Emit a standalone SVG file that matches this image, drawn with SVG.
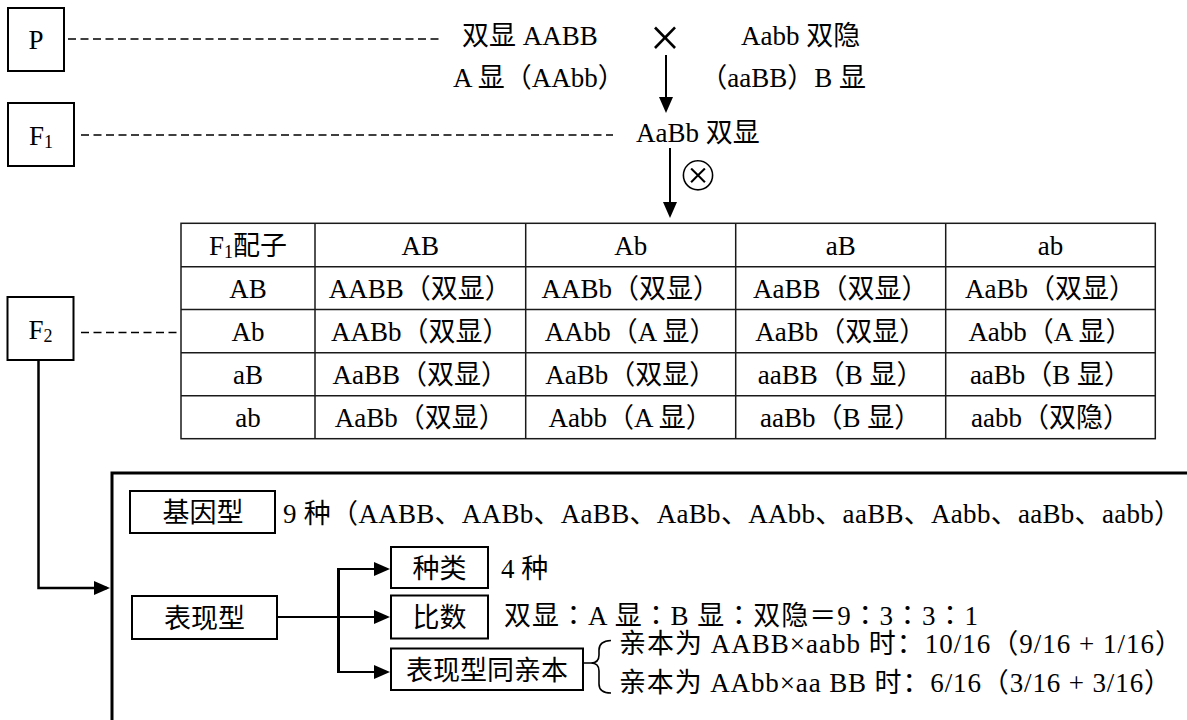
<svg xmlns="http://www.w3.org/2000/svg" width="1187" height="720" viewBox="0 0 1187 720">
<defs>
<style>
.t{font-family:"Liberation Serif","Noto Sans CJK SC",serif;font-size:27px;fill:#000}
.m{text-anchor:middle}
.e{text-anchor:end}
.tc{font-family:"Liberation Serif","Noto Sans CJK TC",serif}
.box{fill:none;stroke:#000;stroke-width:2}
.dash{fill:none;stroke:#000;stroke-width:1.5;stroke-dasharray:8 4.5}
.ln{fill:none;stroke:#000;stroke-width:2}
.tb{fill:none;stroke:#1a1a1a;stroke-width:1.5}
.sub{font-size:18px}
</style>
<marker id="arr" viewBox="0 0 16 14" refX="13" refY="7" markerWidth="16" markerHeight="14" markerUnits="userSpaceOnUse" orient="auto">
<path d="M0,0 L16,7 L0,14 z" fill="#000"/>
</marker>
</defs>
<rect width="1187" height="720" fill="#fff"/>

<g id="node-P">
<rect class="box" x="8" y="8" width="56" height="63"/>
<text class="t m" x="36" y="49">P</text>
</g>
<g id="node-F1">
<rect class="box" x="8" y="103" width="66" height="63"/>
<text class="t m" x="41" y="145">F<tspan class="sub" dy="3">1</tspan></text>
</g>
<g id="node-F2">
<rect class="box" x="7.5" y="297" width="66" height="63"/>
<text class="t m" x="40.5" y="339">F<tspan class="sub" dy="3">2</tspan></text>
</g>

<g id="node-parents">
<text class="t" x="462" y="45">双显 AABB</text>
<text class="t m" x="665" y="56" style="font-size:54px">×</text>
<text class="t" x="741" y="45">Aabb 双隐</text>
<text class="t" x="453" y="87">A 显（AAbb）</text>
<text class="t e" x="866" y="87">（aaBB）B 显</text>
</g>
<g id="node-f1">
<text class="t" x="636" y="142">AaBb 双显</text>
<text class="m" x="698" y="191" style="font-family:'DejaVu Sans',sans-serif;font-size:50px;fill:#000;stroke:#fff;stroke-width:2">⊗</text>
</g>

<g id="node-table">
<rect class="tb" x="181" y="223.3" width="974.3" height="215.4"/>
<path class="tb" d="M181,266.7H1155.3M181,309.5H1155.3M181,352.7H1155.3M181,395.7H1155.3M315,223.3V438.7M525.7,223.3V438.7M735.7,223.3V438.7M945.7,223.3V438.7"/>
<text class="t m" x="248" y="255">F<tspan class="sub" dy="3">1</tspan><tspan dy="-3">配子</tspan></text>
<text class="t m" x="420.3" y="255">AB</text>
<text class="t m" x="630.7" y="255">Ab</text>
<text class="t m" x="840.7" y="255">aB</text>
<text class="t m" x="1050.5" y="255">ab</text>

<text class="t m" x="248" y="298">AB</text>
<text class="t m" x="420.3" y="298">AABB（双显）</text>
<text class="t m" x="630.7" y="298">AABb（双显）</text>
<text class="t m" x="840.7" y="298">AaBB（双显）</text>
<text class="t m" x="1050.5" y="298">AaBb（双显）</text>

<text class="t m" x="248" y="341">Ab</text>
<text class="t m" x="420.3" y="341">AABb（双显）</text>
<text class="t m" x="630.7" y="341">AAbb（A 显）</text>
<text class="t m" x="840.7" y="341">AaBb（双显）</text>
<text class="t m" x="1050.5" y="341">Aabb（A 显）</text>

<text class="t m" x="248" y="384">aB</text>
<text class="t m" x="420.3" y="384">AaBB（双显）</text>
<text class="t m" x="630.7" y="384">AaBb（双显）</text>
<text class="t m" x="840.7" y="384">aaBB（B 显）</text>
<text class="t m" x="1050.5" y="384">aaBb（B 显）</text>

<text class="t m" x="248" y="427">ab</text>
<text class="t m" x="420.3" y="427">AaBb（双显）</text>
<text class="t m" x="630.7" y="427">Aabb（A 显）</text>
<text class="t m" x="840.7" y="427">aaBb（B 显）</text>
<text class="t m" x="1050.5" y="427">aabb（双隐）</text>
</g>

<g id="node-frame">
<path d="M112,722V473H1190" fill="none" stroke="#000" stroke-width="3"/>
</g>

<g id="node-genotype">
<rect class="box" x="130" y="491" width="145" height="42"/>
<text class="t m" x="203" y="522">基因型</text>
<text class="t" x="283" y="523" textLength="898" lengthAdjust="spacing">9 种（AABB、AABb、AaBB、AaBb、AAbb、aaBB、Aabb、aaBb、aabb）</text>
</g>
<g id="node-phenotype">
<rect class="box" x="132" y="596" width="145" height="43"/>
<text class="t m" x="204.5" y="628">表现型</text>
</g>
<g id="node-kinds">
<rect class="box" x="391" y="547" width="97" height="41"/>
<text class="t m" x="439.5" y="578">种类</text>
<text class="t" x="501" y="578">4 种</text>
</g>
<g id="node-ratio">
<rect class="box" x="391" y="595.5" width="97" height="43"/>
<text class="t m" x="439.5" y="627">比数</text>
<text class="t tc" x="504" y="625" textLength="474" lengthAdjust="spacing">双显：A 显：B 显：双隐＝9：3：3：1</text>
</g>
<g id="node-same">
<rect class="box" x="391" y="648.5" width="192" height="41.5"/>
<text class="t m" x="487" y="680">表现型同亲本</text>
<text class="t" x="619" y="653" textLength="563" lengthAdjust="spacing">亲本为 AABB×aabb 时：10/16（9/16 + 1/16）</text>
<text class="t" x="619" y="692" textLength="552" lengthAdjust="spacing">亲本为 AAbb×aa BB 时：6/16（3/16 + 3/16）</text>
</g>

<g id="connectors">
<line class="dash" x1="68" y1="39" x2="443" y2="39"/>
<line class="dash" x1="81" y1="135" x2="613" y2="135"/>
<line class="dash" x1="81" y1="332.5" x2="178" y2="332.5"/>
<line class="ln" x1="666" y1="55" x2="666" y2="110" marker-end="url(#arr)"/>
<line class="ln" x1="670" y1="148" x2="670" y2="215" marker-end="url(#arr)"/>
<path d="M38.5,360V588H107" fill="none" stroke="#000" stroke-width="2.5" marker-end="url(#arr)"/>
<line class="ln" x1="277" y1="617" x2="387" y2="617" marker-end="url(#arr)"/>
<line x1="338.5" y1="568" x2="338.5" y2="673" stroke="#000" stroke-width="3"/>
<line class="ln" x1="338" y1="569" x2="387" y2="569" marker-end="url(#arr)"/>
<line class="ln" x1="338" y1="672" x2="387" y2="672" marker-end="url(#arr)"/>
<path d="M583,663H591M611,640.5Q599,641 599,650V655Q599,663 591,663Q599,663 599,671V684Q599,693 611,693" fill="none" stroke="#000" stroke-width="1.6"/>
</g>
</svg>
